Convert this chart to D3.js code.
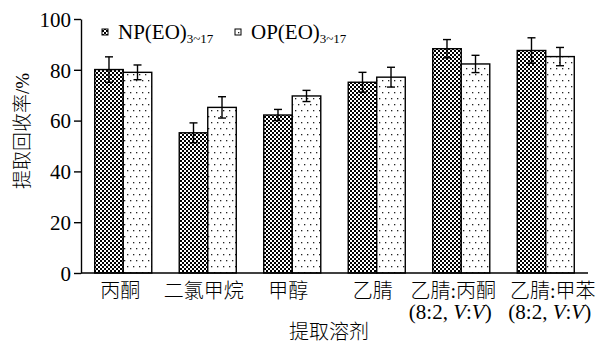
<!DOCTYPE html>
<html>
<head>
<meta charset="utf-8">
<script src="https://cdn.jsdelivr.net/npm/d3@7"></script>
<style>
  html, body { margin: 0; padding: 0; background: #fff; }
  svg { display: block; }
  text { fill: #000; }
  .serif { font-family: "Liberation Serif", "Times New Roman", serif; }
  .cjk { font-family: "Liberation Serif", "Noto Sans CJK SC", serif; font-weight: 300; }
</style>
</head>
<body>
<svg id="chart" width="600" height="342"></svg>
<script>
// Extraction solvents (x categories), first and second label lines
const categories = ["丙酮", "二氯甲烷", "甲醇", "乙腈", "乙腈:丙酮", "乙腈:甲苯"];
const ratioLine = ["", "", "", "", "(8:2, V:V)", "(8:2, V:V)"];

// Recovery (%) and standard deviation for each series
const npValues = [80.1, 55.2, 62.2, 75.1, 88.3, 87.6];
const npErrors = [5.0, 3.9, 2.2, 3.9, 3.6, 5.0];
const opValues = [79.0, 65.2, 69.7, 77.1, 82.3, 85.2];
const opErrors = [2.9, 4.2, 2.2, 3.9, 3.4, 3.6];

const seriesNames = ["NP", "OP"];
const yTicks = [0, 20, 40, 60, 80, 100];

const svg = d3.select("#chart");
const left = 81, right = 588;

const x = d3.scaleBand()
  .domain(categories)
  .range([left, right])
  .paddingInner(0.325)
  .paddingOuter(0.1625);
const xs = d3.scaleBand().domain(seriesNames).range([0, x.bandwidth()]);
const y = d3.scaleLinear().domain([0, 100]).range([273, 19]);

// Fill patterns: checkerboard for NP, sparse dots for OP
const defs = svg.append("defs");
const chk = defs.append("pattern").attr("id", "chk")
  .attr("patternUnits", "userSpaceOnUse").attr("width", 4).attr("height", 4);
chk.append("rect").attr("width", 4).attr("height", 4).attr("fill", "#fff");
chk.append("rect").attr("width", 2).attr("height", 2).attr("fill", "#000");
chk.append("rect").attr("x", 2).attr("y", 2).attr("width", 2).attr("height", 2).attr("fill", "#000");

const dots = defs.append("pattern").attr("id", "dots")
  .attr("patternUnits", "userSpaceOnUse").attr("width", 6).attr("height", 12);
dots.append("rect").attr("width", 6).attr("height", 12).attr("fill", "#fff");
dots.append("rect").attr("x", 1).attr("y", 2).attr("width", 1.3).attr("height", 1.3).attr("fill", "#222");
dots.append("rect").attr("x", 4).attr("y", 8).attr("width", 1.3).attr("height", 1.3).attr("fill", "#222");

const fills = { NP: "url(#chk)", OP: "url(#dots)" };

// Rows for bars
const rows = [];
categories.forEach((c, i) => {
  rows.push({ cat: c, s: "NP", v: npValues[i], e: npErrors[i] });
  rows.push({ cat: c, s: "OP", v: opValues[i], e: opErrors[i] });
});

// Bars
svg.append("g").selectAll("rect").data(rows).join("rect")
  .attr("x", d => x(d.cat) + xs(d.s))
  .attr("y", d => y(d.v))
  .attr("width", xs.bandwidth())
  .attr("height", d => y(0) - y(d.v))
  .attr("fill", d => fills[d.s])
  .attr("stroke", "#000")
  .attr("stroke-width", 1.4);

// Error bars
const eg = svg.append("g").attr("stroke", "#000").attr("stroke-width", 1.4);
rows.forEach(d => {
  const cx = x(d.cat) + xs(d.s) + xs.bandwidth() / 2;
  eg.append("line").attr("x1", cx).attr("x2", cx).attr("y1", y(d.v + d.e)).attr("y2", y(d.v - d.e));
  eg.append("line").attr("x1", cx - 4).attr("x2", cx + 4).attr("y1", y(d.v + d.e)).attr("y2", y(d.v + d.e));
  eg.append("line").attr("x1", cx - 4).attr("x2", cx + 4).attr("y1", y(d.v - d.e)).attr("y2", y(d.v - d.e));
});

// Y axis
const yAxis = svg.append("g").attr("transform", `translate(${left},0)`)
  .call(d3.axisLeft(y).tickValues(yTicks).tickSize(7).tickPadding(3).tickSizeOuter(0));
yAxis.attr("font-family", null).attr("font-size", null);
yAxis.select(".domain").attr("stroke-width", 1.4);
yAxis.selectAll(".tick line").attr("stroke-width", 1.4);
yAxis.selectAll(".tick text").attr("class", "serif").attr("font-size", 21).attr("dy", "0.35em");

// X axis line (no ticks)
svg.append("line").attr("x1", left).attr("x2", right)
  .attr("y1", y(0)).attr("y2", y(0)).attr("stroke", "#000").attr("stroke-width", 1.4);

// Category labels
const labelShift = [-3, -4, -4, -4, -8, 7];
const lab = svg.append("g").attr("font-size", 20).attr("text-anchor", "middle");
categories.forEach((c, i) => {
  const cx = x(c) + x.bandwidth() / 2 + labelShift[i];
  lab.append("text").attr("class", "cjk").attr("x", cx).attr("y", 298).text(c);
  if (ratioLine[i]) {
    const t = lab.append("text").attr("class", "serif").attr("font-size", 21)
      .attr("x", cx - 3).attr("y", 319);
    ratioLine[i].split(/(V)/).forEach(p => {
      if (!p) return;
      const ts = t.append("tspan").text(p);
      if (p === "V") ts.attr("font-style", "italic");
    });
  }
});

// Axis titles
svg.append("text").attr("class", "cjk").attr("x", 329).attr("y", 339)
  .attr("text-anchor", "middle").attr("font-size", 20).text("提取溶剂");
svg.append("text").attr("class", "cjk")
  .attr("transform", "translate(29,131) rotate(-90)")
  .attr("text-anchor", "middle").attr("font-size", 19).text("提取回收率/%");

// Legend
const legend = [
  { s: "NP", label: "NP(EO)", sub: "3~17", x: 102 },
  { s: "OP", label: "OP(EO)", sub: "3~17", x: 235 }
];
legend.forEach(l => {
  svg.append("rect").attr("x", l.x).attr("y", 29).attr("width", 6).attr("height", 6)
    .attr("fill", fills[l.s]).attr("stroke", "#000").attr("stroke-width", 1);
  const t = svg.append("text").attr("class", "serif").attr("x", l.x + 16).attr("y", 39).attr("font-size", 21);
  t.append("tspan").text(l.label);
  t.append("tspan").attr("font-size", 13).attr("dy", 4).text(l.sub);
});
</script>
</body>
</html>
